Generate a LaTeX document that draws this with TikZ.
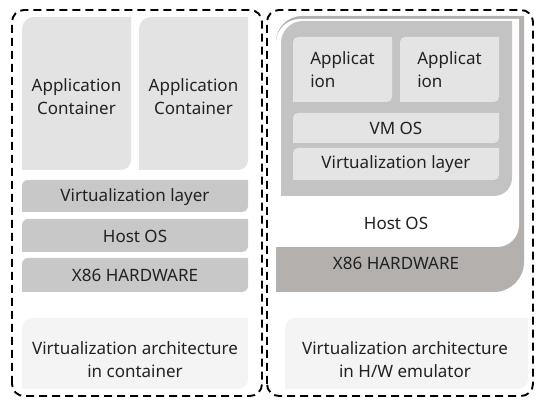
\documentclass[tikz,border=0pt]{standalone}
\usepackage{fontspec}
\setmainfont{Noto Sans}
\definecolor{appc}{HTML}{E3E3E3}
\definecolor{layer}{HTML}{C8C8C8}
\definecolor{lbl}{HTML}{F4F4F4}
\definecolor{hw}{HTML}{B4B0AE}
\definecolor{vm}{HTML}{C3C3C3}
\definecolor{inner}{HTML}{E4E4E4}
\definecolor{txt}{HTML}{222222}
\newcommand\leafpath[6]{(#1,#2) -- (#1,#4-#5) arc[start angle=180,end angle=90,radius=#5pt] -- (#3,#4) -- (#3,#2+#6) arc[start angle=0,end angle=-90,radius=#6pt] -- cycle}
\tikzset{
  frame/.style={draw=black, line width=1.9pt, dash pattern=on 8pt off 5pt, rounded corners=12pt},
  lab/.style={text=txt, font=\fontsize{17}{23}\selectfont, align=center, inner sep=0pt},
}
\begin{document}
\begin{tikzpicture}[x=1pt,y=1pt]
\useasboundingbox (0,0) rectangle (538,401);
% ---- left ----
\fill[appc] \leafpath{22}{231}{131}{384}{12}{10};
\fill[appc] \leafpath{139}{231}{248}{384}{12}{10};
\fill[layer] \leafpath{22}{189}{248}{221}{6}{6};
\fill[layer] \leafpath{22}{149}{248}{182}{6}{6};
\fill[layer] \leafpath{22}{109}{248}{143}{6}{6};
\fill[lbl] \leafpath{22}{12}{248}{83}{10}{10};
\node[lab] (ac1) at (76.5,304) {Application\\Container};
\node[lab] (ac2) at (193.5,304) {Application\\Container};
\node[lab] (vl1) at (135,204) {Virtualization layer};
\node[lab] (ho1) at (135,165) {Host OS};
\node[lab] (hw1) at (135,126) {X86 HARDWARE};
\node[lab] (la1) at (135,41) {Virtualization architecture\\in container};
\draw[frame] (12,5) rectangle (262,391);
% ---- right ----
\fill[hw] \leafpath{276}{109}{524}{385}{26}{30};
\fill[white] \leafpath{276}{154}{519}{382}{24}{22};
\fill[vm] \leafpath{281}{205}{512}{380}{22}{18};
\fill[inner] \leafpath{293}{299}{392}{364}{5}{5};
\fill[inner] \leafpath{400}{299}{499}{364}{5}{5};
\fill[inner] \leafpath{293}{258}{499}{288}{5}{5};
\fill[inner] \leafpath{293}{221}{499}{253}{5}{5};
\fill[lbl] \leafpath{285}{12}{528}{83}{10}{10};
\node[lab, align=left] (ap1) at (342.5,331) {Applicat\\ion};
\node[lab, align=left] (ap2) at (449.5,331) {Applicat\\ion};
\node[lab] (vmos) at (396,273) {VM OS};
\node[lab] (vl2) at (396,237) {Virtualization layer};
\node[lab] (ho2) at (396,178) {Host OS};
\node[lab] (hw2) at (396,138) {X86 HARDWARE};
\node[lab] (la2) at (405,41) {Virtualization architecture\\in H/W emulator};
\draw[frame] (267,5) rectangle (533,391);
\end{tikzpicture}
\end{document}
